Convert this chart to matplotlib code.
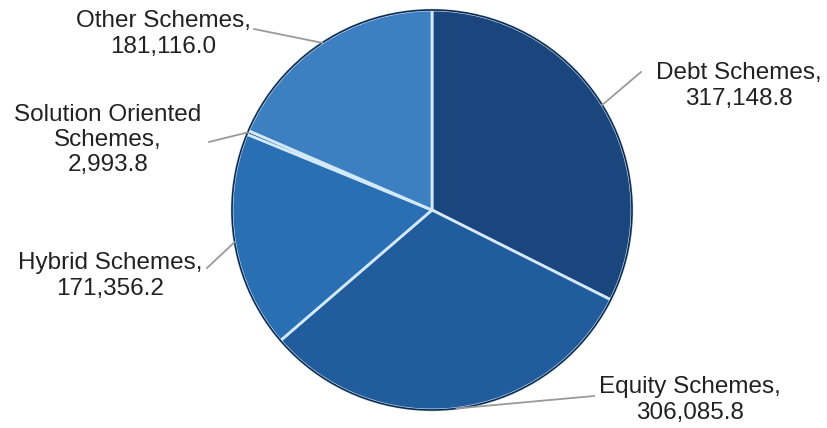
import numpy as np
import matplotlib
matplotlib.use('Agg')
import matplotlib.pyplot as plt
from matplotlib.patches import Circle

labels = ['Debt Schemes,\n317,148.8', 'Equity Schemes,\n306,085.8', 'Hybrid Schemes,\n171,356.2',
          'Solution Oriented\nSchemes,\n2,993.8', 'Other Schemes,\n181,116.0']
values = [317148.8, 306085.8, 171356.2, 2993.8, 181116.0]
colors = ['#1a457d', '#215c9c', '#2a6eb4', '#1f4f88', '#3d80c2']

# label centre and leader end, in pixels of the 827x428 picture
text_px = [(739, 86), (690, 400), (110, 276), (108, 140), (163, 34)]
line_end_px = [(641, 72), (594, 396), (207, 268), (209, 142), (254, 29)]

W, H = 827, 428
cx, cy, R = 432, 210, 200

def to_data(p):
    return ((p[0] - cx) / R, (cy - p[1]) / R)

plt.rcParams['font.family'] = ['Liberation Sans', 'DejaVu Sans']

fig = plt.figure(figsize=(W / 100, H / 100), dpi=100)
ax = fig.add_axes([0, 0, 1, 1])

wedges, _ = ax.pie(values, colors=colors, startangle=90, counterclock=False,
                   wedgeprops=dict(edgecolor='#d2e9fa', linewidth=2.0))
ax.add_patch(Circle((0, 0), 1.0, fill=False, edgecolor='#0f2a4d', linewidth=1.2))

for w, lab, tp, lp in zip(wedges, labels, text_px, line_end_px):
    mid = np.deg2rad((w.theta1 + w.theta2) / 2)
    x0, y0 = np.cos(mid), np.sin(mid)
    x1, y1 = to_data(lp)
    ax.plot([x0, x1], [y0, y1], color='#9a9a9a', linewidth=1.3)
    tx, ty = to_data(tp)
    ax.text(tx, ty, lab, ha='center', va='center', fontsize=17.5,
            color='#222222', linespacing=1.2)

ax.set_xlim(-cx / R, (W - cx) / R)
ax.set_ylim(-(H - cy) / R, cy / R)
ax.set_aspect('auto')
ax.axis('off')

fig.savefig('out.png', dpi=100, facecolor='white')
